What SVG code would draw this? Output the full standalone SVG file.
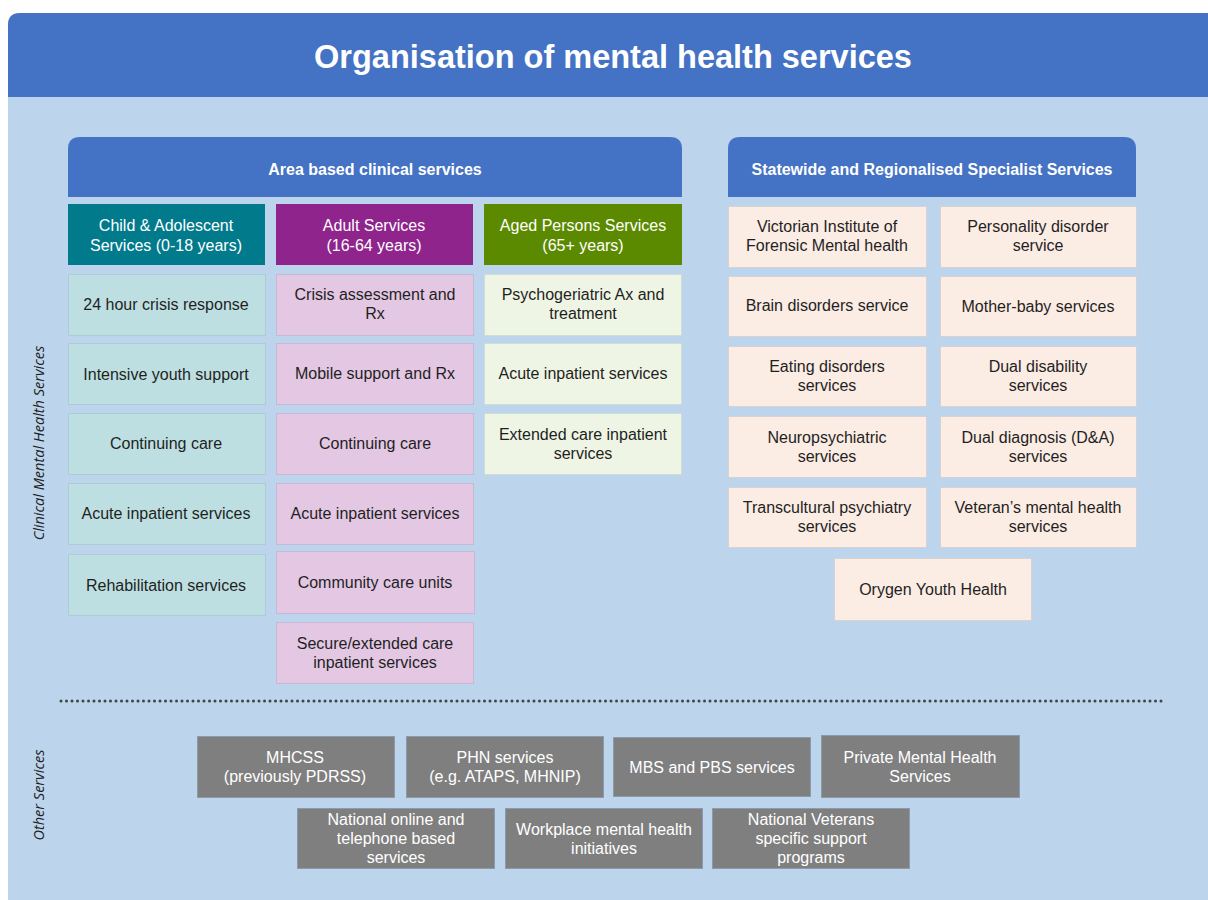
<svg xmlns="http://www.w3.org/2000/svg" width="1208" height="900" viewBox="0 0 1208 900">
<style>
text{font-family:"Liberation Sans",Arial,sans-serif;font-size:16px;text-anchor:middle;fill:#1f1f1f}
.w{fill:#ffffff}
.hb{font-weight:bold;fill:#ffffff}
.side{font-family:"Open Sans","DejaVu Sans",sans-serif;font-style:italic;font-size:14.5px;fill:#222}
.ch{fill:#BEDFE1;stroke:#9fbfc2;stroke-width:1;stroke-dasharray:1 1}
.ad{fill:#E3C7E3;stroke:#bda4c0;stroke-width:1;stroke-dasharray:1 1}
.ag{fill:#EFF5E4;stroke:#c8d4be;stroke-width:1;stroke-dasharray:1 1}
.sw{fill:#FBECE4;stroke:#d3c6c0;stroke-width:1;stroke-dasharray:1 1}
.gr{fill:#7F7F7F;stroke:#8b9bab;stroke-width:1}
</style>
<rect width="1208" height="900" fill="#ffffff"/>
<path d="M8,25 Q8,13 20,13 H1208 V900 H8 Z" fill="#BDD5EC"/>
<path d="M8,25 Q8,13 20,13 H1208 V97 H8 Z" fill="#4472C4"/>
<text x="613" y="68" class="hb" style="font-size:32.5px">Organisation of mental health services</text>

<g id="area-header"><path d="M68,149 Q68,137 80,137 H670 Q682,137 682,149 V197 H68 Z" fill="#4472C4"/><text x="375" y="175" class="hb">Area based clinical services</text></g>
<g id="state-header"><path d="M728,149 Q728,137 740,137 H1124 Q1136,137 1136,149 V197 H728 Z" fill="#4472C4"/><text x="932" y="175" class="hb">Statewide and Regionalised Specialist Services</text></g>

<g id="child-header"><rect x="68" y="204" width="197" height="61" fill="#017A8C"/><text x="166" y="231" class="w">Child &amp; Adolescent</text><text x="166" y="251" class="w">Services (0-18 years)</text></g>
<g id="adult-header"><rect x="276" y="204" width="197" height="61" fill="#8E248C"/><text x="374" y="231" class="w">Adult Services</text><text x="374" y="251" class="w">(16-64 years)</text></g>
<g id="aged-header"><rect x="484" y="204" width="198" height="61" fill="#5B8A00"/><text x="583" y="231" class="w">Aged Persons Services</text><text x="583" y="251" class="w">(65+ years)</text></g>

<g id="c1"><rect x="68.5" y="274.5" width="197" height="61" class="ch"/><text x="166" y="310">24 hour crisis response</text></g>
<g id="c2"><rect x="68.5" y="343.5" width="197" height="61" class="ch"/><text x="166" y="380">Intensive youth support</text></g>
<g id="c3"><rect x="68.5" y="413.5" width="197" height="61" class="ch"/><text x="166" y="449">Continuing care</text></g>
<g id="c4"><rect x="68.5" y="483.5" width="197" height="61" class="ch"/><text x="166" y="519">Acute inpatient services</text></g>
<g id="c5"><rect x="68.5" y="554.5" width="197" height="61" class="ch"/><text x="166" y="591">Rehabilitation services</text></g>

<g id="a1"><rect x="276.5" y="274.5" width="197" height="61" class="ad"/><text x="375" y="300">Crisis assessment and</text><text x="375" y="319">Rx</text></g>
<g id="a2"><rect x="276.5" y="343.5" width="197" height="61" class="ad"/><text x="375" y="379">Mobile support and Rx</text></g>
<g id="a3"><rect x="276.5" y="413.5" width="197" height="61" class="ad"/><text x="375" y="449">Continuing care</text></g>
<g id="a4"><rect x="276.5" y="483.5" width="197" height="61" class="ad"/><text x="375" y="519">Acute inpatient services</text></g>
<g id="a5"><rect x="276.5" y="551.5" width="198" height="62" class="ad"/><text x="375" y="588">Community care units</text></g>
<g id="a6"><rect x="276.5" y="622.5" width="197" height="61" class="ad"/><text x="375" y="649">Secure/extended care</text><text x="375" y="668">inpatient services</text></g>

<g id="g1"><rect x="484.5" y="274.5" width="197" height="61" class="ag"/><text x="583" y="300">Psychogeriatric Ax and</text><text x="583" y="319">treatment</text></g>
<g id="g2"><rect x="484.5" y="343.5" width="197" height="61" class="ag"/><text x="583" y="379">Acute inpatient services</text></g>
<g id="g3"><rect x="484.5" y="413.5" width="197" height="61" class="ag"/><text x="583" y="440">Extended care inpatient</text><text x="583" y="459">services</text></g>

<g id="s1"><rect x="728.5" y="206.5" width="198" height="61" class="sw"/><text x="827" y="232">Victorian Institute  of</text><text x="827" y="251">Forensic Mental health</text></g>
<g id="s2"><rect x="940.5" y="206.5" width="196" height="61" class="sw"/><text x="1038" y="232">Personality disorder</text><text x="1038" y="251">service</text></g>
<g id="s3"><rect x="728.5" y="276.5" width="198" height="60" class="sw"/><text x="827" y="311">Brain disorders service</text></g>
<g id="s4"><rect x="940.5" y="276.5" width="196" height="60" class="sw"/><text x="1038" y="312">Mother-baby services</text></g>
<g id="s5"><rect x="728.5" y="346.5" width="198" height="60" class="sw"/><text x="827" y="372">Eating disorders</text><text x="827" y="391">services</text></g>
<g id="s6"><rect x="940.5" y="346.5" width="196" height="60" class="sw"/><text x="1038" y="372">Dual disability</text><text x="1038" y="391">services</text></g>
<g id="s7"><rect x="728.5" y="416.5" width="198" height="61" class="sw"/><text x="827" y="443">Neuropsychiatric</text><text x="827" y="462">services</text></g>
<g id="s8"><rect x="940.5" y="416.5" width="196" height="61" class="sw"/><text x="1038" y="443">Dual diagnosis (D&amp;A)</text><text x="1038" y="462">services</text></g>
<g id="s9"><rect x="728.5" y="487.5" width="198" height="60" class="sw"/><text x="827" y="513">Transcultural  psychiatry</text><text x="827" y="532">services</text></g>
<g id="s10"><rect x="940.5" y="487.5" width="196" height="60" class="sw"/><text x="1038" y="513">Veteran’s mental health</text><text x="1038" y="532">services</text></g>
<g id="s11"><rect x="834.5" y="558.5" width="197" height="62" class="sw"/><text x="933" y="595">Orygen  Youth  Health</text></g>

<g id="connectors"><line x1="61" y1="701" x2="1165" y2="701" stroke="#444" stroke-width="3" stroke-linecap="round" stroke-dasharray="0 5.5"/></g>

<text class="side" transform="translate(44,443) rotate(-90)">Clinical Mental Health Services</text>
<text class="side" transform="translate(44,795) rotate(-90)">Other Services</text>

<g id="o1"><rect x="197.5" y="736.5" width="197" height="61" class="gr"/><text x="295" y="763" class="w">MHCSS</text><text x="295" y="782" class="w">(previously PDRSS)</text></g>
<g id="o2"><rect x="406.5" y="736.5" width="197" height="61" class="gr"/><text x="505" y="763" class="w">PHN services</text><text x="505" y="782" class="w">(e.g. ATAPS, MHNIP)</text></g>
<g id="o3"><rect x="613.5" y="737.5" width="197" height="59" class="gr"/><text x="712" y="773" class="w">MBS and PBS services</text></g>
<g id="o4"><rect x="821.5" y="735.5" width="198" height="62" class="gr"/><text x="920" y="763" class="w">Private Mental Health</text><text x="920" y="782" class="w">Services</text></g>
<g id="o5"><rect x="297.5" y="808.5" width="197" height="60" class="gr"/><text x="396" y="825" class="w">National online and</text><text x="396" y="844" class="w">telephone based</text><text x="396" y="863" class="w">services</text></g>
<g id="o6"><rect x="505.5" y="808.5" width="197" height="60" class="gr"/><text x="604" y="835" class="w">Workplace mental health</text><text x="604" y="854" class="w">initiatives</text></g>
<g id="o7"><rect x="712.5" y="808.5" width="197" height="60" class="gr"/><text x="811" y="825" class="w">National Veterans</text><text x="811" y="844" class="w">specific support</text><text x="811" y="863" class="w">programs</text></g>
</svg>
